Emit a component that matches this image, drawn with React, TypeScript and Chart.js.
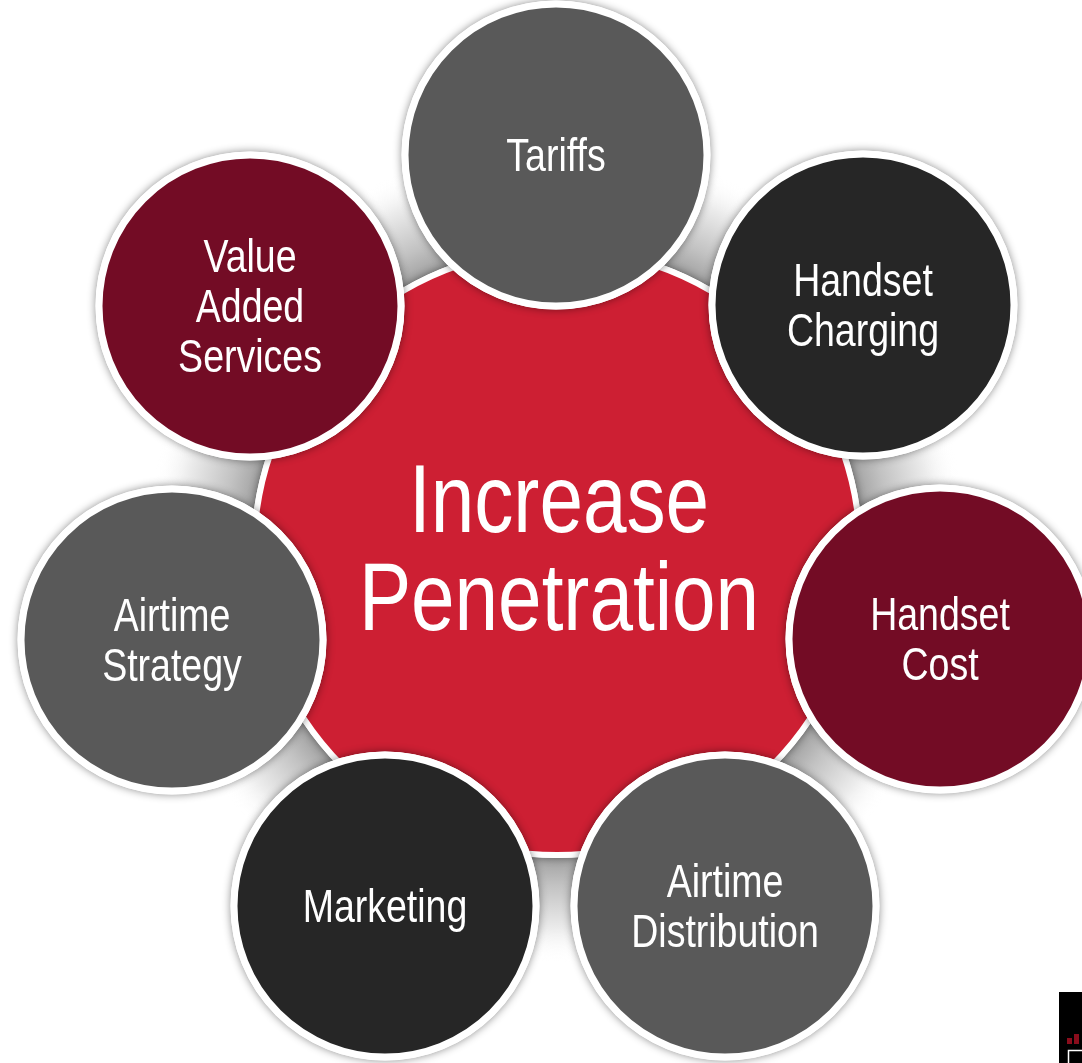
import React, { useEffect, useRef } from "react";
import { Chart, registerables } from "chart.js";

Chart.register(...registerables);

// ---- Data ----
const centerLines: string[] = ["Increase", "Penetration"];
const centerX: number[] = [557];
const centerY: number[] = [552];
const centerR: number[] = [303];

const factorLabels: string[][] = [
  ["Tariffs"],
  ["Handset", "Charging"],
  ["Handset", "Cost"],
  ["Airtime", "Distribution"],
  ["Marketing"],
  ["Airtime", "Strategy"],
  ["Value", "Added", "Services"],
];
const factorX: number[] = [556, 863, 940, 725, 385, 172, 250];
const factorY: number[] = [155, 305, 639, 906, 906, 640, 306];
const factorR: number[] = [151, 151, 151, 151, 151, 151, 151];
const factorColors: string[] = [
  "#595959",
  "#262626",
  "#730C25",
  "#595959",
  "#262626",
  "#595959",
  "#730C25",
];

const W = 1082;
const H = 1063;
const FONT = '"Liberation Sans", Arial, Helvetica, sans-serif';
const NARROW = 0.815;

function drawLines(
  ctx: CanvasRenderingContext2D,
  lines: string[],
  x: number,
  cy: number,
  size: number,
  lineH: number
) {
  ctx.save();
  ctx.font = `${size}px ${FONT}`;
  ctx.fillStyle = "#ffffff";
  ctx.textAlign = "center";
  ctx.textBaseline = "alphabetic";
  const cap = size * 0.716;
  const n = lines.length;
  lines.forEach((line, i) => {
    const by = cy + cap / 2 + (i - (n - 1) / 2) * lineH;
    ctx.save();
    ctx.translate(x, by);
    ctx.scale(NARROW, 1);
    ctx.fillText(line, 0, 0);
    ctx.restore();
  });
  ctx.restore();
}

const diagramPlugin = {
  id: "diagramDecor",
  beforeDatasetsDraw(chart: any) {
    const ctx: CanvasRenderingContext2D = chart.ctx;
    const centerMeta = chart.getDatasetMeta(1);
    const c = centerMeta.data[0];
    if (!c) return;
    const cx = c.x;
    const cy = c.y;
    // soft grey ring behind the central disc
    ctx.save();
    const g = ctx.createRadialGradient(cx, cy, 300, cx, cy, 410);
    g.addColorStop(0, "#9a9a9a");
    g.addColorStop(0.3, "#c2c2c2");
    g.addColorStop(0.7, "#ececec");
    g.addColorStop(1, "rgba(255,255,255,0)");
    ctx.fillStyle = g;
    ctx.beginPath();
    ctx.arc(cx, cy, 410, 0, Math.PI * 2);
    ctx.fill();
    ctx.restore();
  },
  beforeDatasetDraw(chart: any, args: any) {
    const ctx: CanvasRenderingContext2D = chart.ctx;
    const meta = args.meta;
    ctx.save();
    ctx.fillStyle = "#ffffff";
    ctx.shadowColor = "rgba(0,0,0,0.45)";
    ctx.shadowBlur = 9;
    meta.data.forEach((el: any) => {
      const r = el.options.radius + el.options.borderWidth / 2;
      ctx.beginPath();
      ctx.arc(el.x, el.y, r, 0, Math.PI * 2);
      ctx.fill();
    });
    ctx.restore();
  },
  afterDatasetsDraw(chart: any) {
    const ctx: CanvasRenderingContext2D = chart.ctx;
    const cMeta = chart.getDatasetMeta(1);
    const c = cMeta.data[0];
    if (c) drawLines(ctx, centerLines, c.x + 2, c.y - 5.5, 96, 98);
    const fMeta = chart.getDatasetMeta(0);
    fMeta.data.forEach((el: any, i: number) => {
      drawLines(ctx, factorLabels[i], el.x, el.y, 46, 50);
    });
    // small partial logo at bottom-right corner
    ctx.save();
    ctx.fillStyle = "#000000";
    ctx.fillRect(1059, 992, W - 1059, H - 992);
    ctx.fillStyle = "#8a0d1c";
    ctx.fillRect(1067, 1038, 5, 6);
    ctx.fillRect(1074, 1034, 5, 10);
    ctx.strokeStyle = "#ffffff";
    ctx.lineWidth = 1.5;
    ctx.strokeRect(1068.5, 1050.5, 16, 14);
    ctx.restore();
  },
};

export default function App() {
  const canvasRef = useRef<HTMLCanvasElement | null>(null);

  useEffect(() => {
    const canvas = canvasRef.current;
    if (!canvas) return;
    const chart = new Chart(canvas, {
      type: "bubble",
      data: {
        datasets: [
          {
            label: "Factors",
            data: factorX.map((x, i) => ({ x, y: factorY[i], r: factorR[i] })),
            backgroundColor: factorColors,
            borderColor: "#ffffff",
            borderWidth: 7,
            order: 0,
          },
          {
            label: "Increase Penetration",
            data: centerX.map((x, i) => ({ x, y: centerY[i], r: centerR[i] })),
            backgroundColor: "#CD1F33",
            borderColor: "#ffffff",
            borderWidth: 6,
            order: 1,
          },
        ],
      },
      options: {
        responsive: false,
        animation: false,
        events: [],
        layout: { padding: 0, autoPadding: false },
        plugins: {
          legend: { display: false },
          tooltip: { enabled: false },
          title: { display: false },
        },
        scales: {
          x: { type: "linear", min: 0, max: W, display: false },
          y: { type: "linear", min: 0, max: H, reverse: true, display: false },
        },
        elements: { point: { hoverRadius: 0, hitRadius: 0 } },
      } as any,
      plugins: [diagramPlugin],
    });
    return () => chart.destroy();
  }, []);

  return (
    <div
      style={{
        position: "absolute",
        left: 0,
        top: 0,
        width: W,
        height: H,
        background: "#ffffff",
      }}
    >
      <canvas ref={canvasRef} width={W} height={H} style={{ display: "block" }} />
    </div>
  );
}
